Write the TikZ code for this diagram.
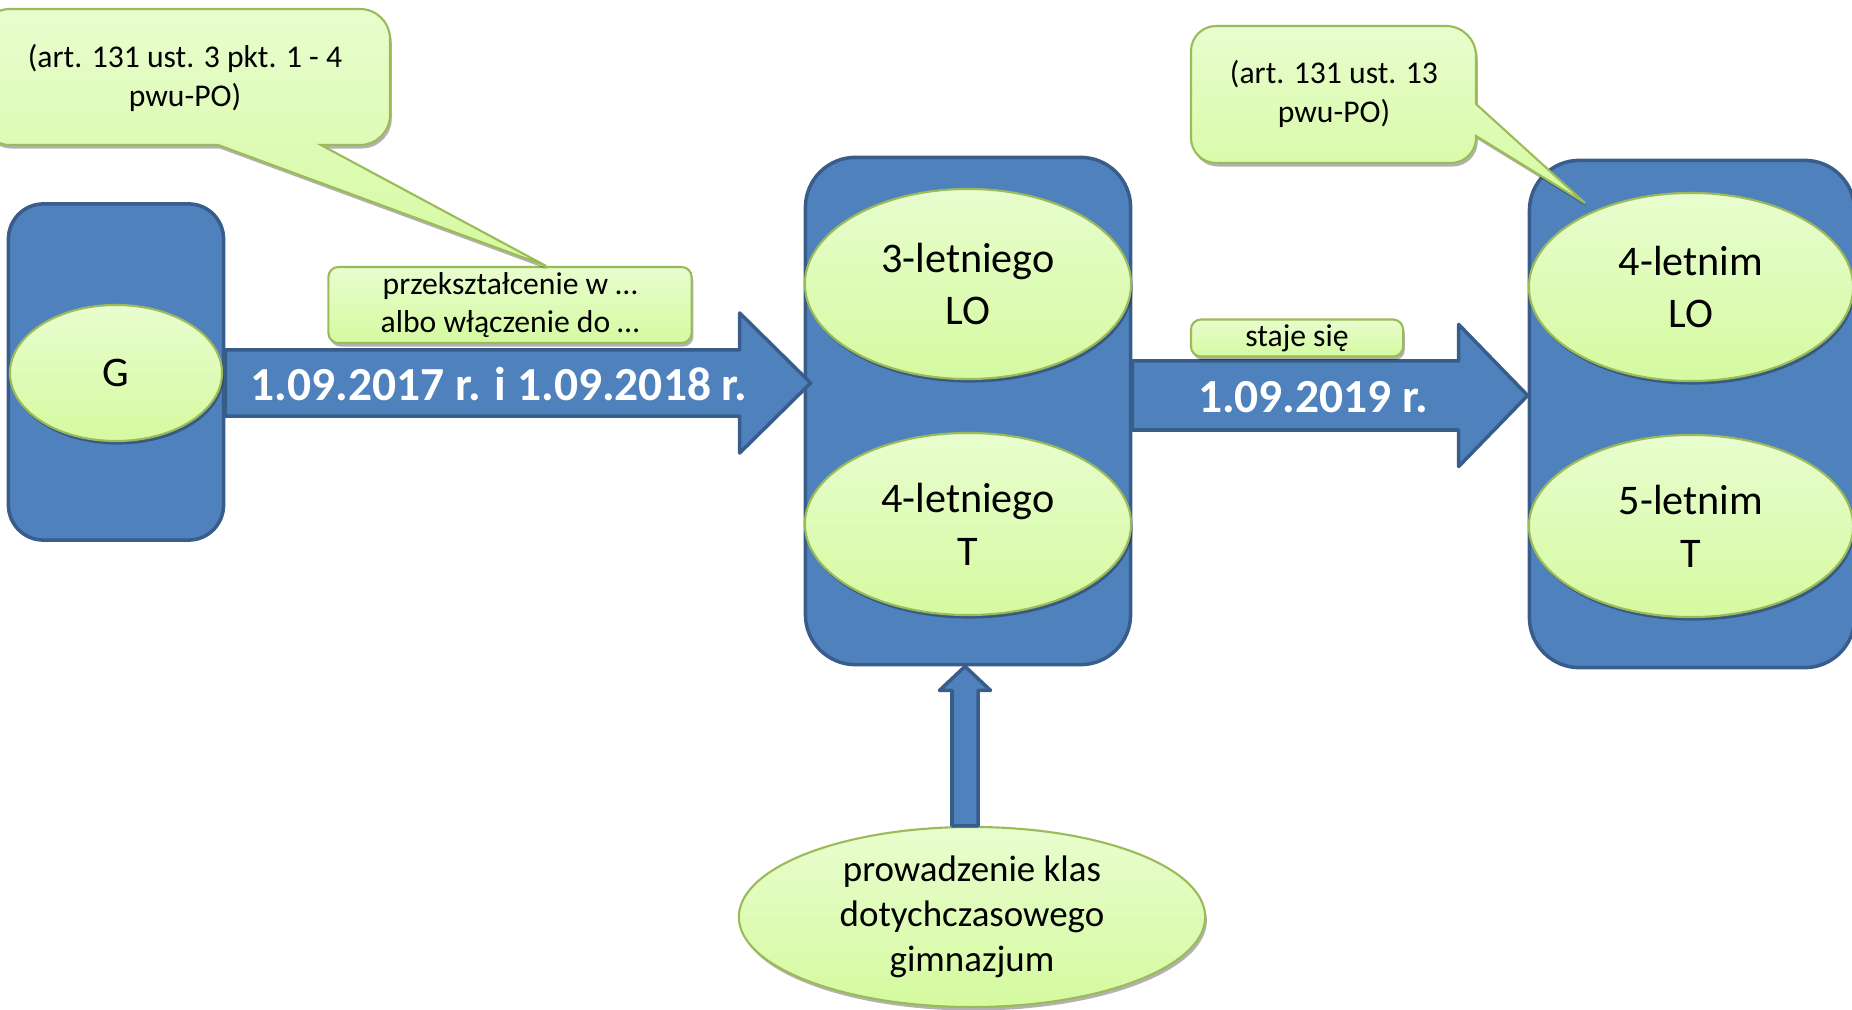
\documentclass[tikz,border=0pt]{standalone}
\usepackage{fontspec}
\setmainfont{Carlito}
\usepackage{tikz}
\usetikzlibrary{shapes.geometric, shadows, calc}

\definecolor{boxblue}{RGB}{79,129,189}
\definecolor{boxedge}{RGB}{56,93,138}
\definecolor{lighttop}{RGB}{232,253,206}
\definecolor{lightbot}{RGB}{213,250,160}
\definecolor{lightedge}{RGB}{155,187,89}

\begin{document}
\begin{tikzpicture}[x=0.01cm, y=-0.01cm,
  container/.style={draw=boxedge, fill=boxblue, line width=1pt, rounded corners=#1},
  container/.default=0.35cm,
  softshadow/.style={drop shadow={shadow xshift=0.5pt, shadow yshift=-1pt, fill=black, opacity=0.3}},
  school/.style={ellipse, draw=lightedge, top color=lighttop, bottom color=lightbot, line width=0.6pt,
    inner sep=0pt, align=center, font=\fontsize{12}{15}\selectfont, softshadow},
  tag/.style={draw=lightedge, top color=lighttop, bottom color=lightbot, line width=0.6pt,
    rounded corners=0.1cm, inner sep=0pt, align=center, font=\fontsize{9}{11}\selectfont, softshadow},
  callout/.style={draw=lightedge, top color=lighttop, bottom color=lightbot, line width=0.6pt, softshadow},
  note/.style={align=center, font=\fontsize{9}{11}\selectfont},
  datelabel/.style={text=white, font=\bfseries\fontsize{13.5}{16}\selectfont},
  blockarrow/.style={draw=boxedge, fill=boxblue, line width=1pt, line join=round}]
\useasboundingbox (0,0) rectangle (1852,1010);
\clip (0,0) rectangle (1852,1010);

% containers
\node[container, minimum width=2.15cm, minimum height=3.36cm] (gbox) at (116,372) {};
\node[container=0.5cm, minimum width=3.25cm, minimum height=5.07cm] (midbox) at (968,411) {};
\node[container=0.5cm, minimum width=3.25cm, minimum height=5.07cm] (newbox) at (1692,414) {};

% schools
\node[school, minimum width=2.12cm, minimum height=1.36cm] (g) at (116,373) {G};
\node[school, minimum width=3.26cm, minimum height=1.90cm] (lo3) at (968,284) {3-letniego\\LO};
\node[school, minimum width=3.26cm, minimum height=1.82cm] (t4) at (968,524) {4-letniego\\T};
\node[school, minimum width=3.24cm, minimum height=1.88cm] (lo4) at (1691,287) {4-letnim\\LO};
\node[school, minimum width=3.24cm, minimum height=1.82cm] (t5) at (1691,526) {5-letnim\\T};
\node[school, minimum width=4.66cm, minimum height=1.80cm, font=\fontsize{10.5}{12.8}\selectfont] (klasy) at (972,917)
  {prowadzenie klas\\dotychczasowego\\gimnazjum};

% arrows
\draw[blockarrow] let \p1=(gbox.east), \p2=(midbox.west) in
  (\x1,\y1-0.44cm) -- (\x2-0.64cm,\y1-0.44cm) -- (\x2-0.64cm,\y1-0.81cm) -- (\x2+0.07cm,\y1-0.11cm)
  -- (\x2-0.64cm,\y1+0.59cm) -- (\x2-0.64cm,\y1+0.22cm) -- (\x1,\y1+0.22cm) -- cycle;
\draw[blockarrow] let \p1=(midbox.east), \p2=(newbox.west) in
  (\x1,\y1-0.19cm) -- (\x2-0.69cm,\y1-0.19cm) -- (\x2-0.69cm,\y1-0.555cm) -- (\x2,\y1+0.155cm)
  -- (\x2-0.69cm,\y1+0.865cm) -- (\x2-0.69cm,\y1+0.50cm) -- (\x1,\y1+0.50cm) -- cycle;
\draw[blockarrow] let \p1=(midbox.south), \p2=(klasy.north) in
  (\x1-0.03cm,\y1) -- (\x1+0.225cm,\y1-0.24cm) -- (\x1+0.10cm,\y1-0.24cm) -- (\x1+0.10cm,\y2)
  -- (\x1-0.16cm,\y2) -- (\x1-0.16cm,\y1-0.24cm) -- (\x1-0.285cm,\y1-0.24cm) -- cycle;

\node[datelabel] (dateA) at (499,384) {1.09.2017 r. i 1.09.2018 r.};
\node[datelabel] (dateB) at (1313,397) {1.09.2019 r.};

% labels over the arrows
\node[tag, minimum width=3.63cm, minimum height=0.76cm] (zmiana) at (510,305)
  {przekształcenie w …\\albo włączenie do …};
\node[tag, minimum width=2.12cm, minimum height=0.37cm] (staje) at (1297,338) {staje się};

% callouts
\coordinate (tipA) at ($(zmiana.north)+(36,0)$);
\coordinate (tipB) at (1585,203);
\draw[callout] (185,9) [rounded corners=0.3cm] -- (390,9) -- (390,145) [sharp corners] -- (321,145)
  -- (tipA) -- (218,145) [rounded corners=0.3cm] -- (-20,145) -- (-20,9) -- cycle;
\draw[callout] (1333,26) [rounded corners=0.3cm] -- (1476,26) [sharp corners] -- (1476,104)
  -- (tipB) -- (1476,136) [rounded corners=0.25cm] -- (1476,163) -- (1191,163) -- (1191,26) -- cycle;
\node[note] (artA) at (185,78) {(art. 131 ust. 3 pkt. 1 - 4\\pwu-PO)};
\node[note] (artB) at (1334,94) {(art. 131 ust. 13\\pwu-PO)};
\end{tikzpicture}
\end{document}
